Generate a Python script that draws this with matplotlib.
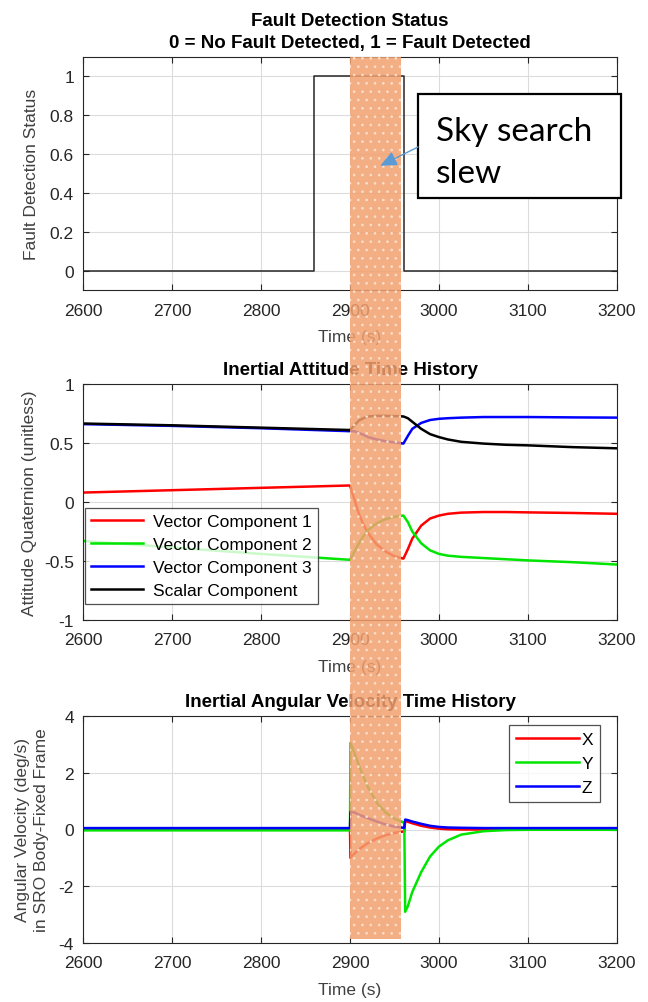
import matplotlib
matplotlib.use("Agg")
import matplotlib.pyplot as plt
from matplotlib.patches import Rectangle, FancyArrowPatch

plt.rcParams['font.family'] = ['Liberation Sans', 'DejaVu Sans']
plt.rcParams['hatch.linewidth'] = 0.7
plt.rcParams['axes.unicode_minus'] = False

# fault detection flag (step changes)
t_fd = [2600, 2860, 2961, 3200]
fd = [0, 1, 0, 0]

# attitude quaternion
t_att = [2600, 2700, 2800, 2900, 2905, 2910, 2915, 2920, 2930, 2940, 2950, 2960,
         2965, 2970, 2980, 2990, 3000, 3010, 3025, 3050, 3075, 3100, 3150, 3200]
q1 = [0.08, 0.10, 0.12, 0.14, 0.02, -0.10, -0.19, -0.26, -0.36, -0.42, -0.46, -0.48,
      -0.40, -0.31, -0.20, -0.14, -0.115, -0.10, -0.09, -0.085, -0.085, -0.088, -0.093, -0.10]
q2 = [-0.33, -0.385, -0.44, -0.49, -0.42, -0.35, -0.29, -0.24, -0.18, -0.145, -0.125, -0.115,
      -0.17, -0.25, -0.35, -0.41, -0.44, -0.455, -0.465, -0.475, -0.485, -0.495, -0.51, -0.53]
q3 = [0.66, 0.645, 0.625, 0.60, 0.60, 0.585, 0.57, 0.55, 0.53, 0.515, 0.505, 0.495,
      0.56, 0.62, 0.67, 0.695, 0.705, 0.71, 0.715, 0.72, 0.72, 0.72, 0.717, 0.715]
q4 = [0.665, 0.65, 0.63, 0.61, 0.65, 0.69, 0.71, 0.725, 0.73, 0.73, 0.728, 0.725,
      0.71, 0.68, 0.62, 0.575, 0.55, 0.53, 0.51, 0.495, 0.485, 0.48, 0.465, 0.455]
att_labels = ["Vector Component 1", "Vector Component 2", "Vector Component 3", "Scalar Component"]

# angular velocity
t_w = [2600, 2900, 2900.5, 2905, 2910, 2920, 2930, 2940, 2950, 2960, 2961, 2962,
       2965, 2970, 2980, 2990, 3000, 3010, 3025, 3050, 3075, 3100, 3200]
wx = [0, 0, -1.0, -0.85, -0.7, -0.48, -0.32, -0.2, -0.12, -0.07, -0.07, 0.3,
      0.27, 0.22, 0.13, 0.07, 0.03, 0.01, 0, 0, 0, 0, 0]
wy = [-0.03, -0.03, 3.05, 2.7, 2.25, 1.5, 0.95, 0.6, 0.38, 0.25, 0.25, -2.9,
      -2.7, -2.2, -1.5, -0.95, -0.6, -0.38, -0.18, -0.06, -0.02, -0.01, -0.01]
wz = [0.05, 0.05, 0.62, 0.6, 0.52, 0.4, 0.28, 0.18, 0.1, 0.06, 0.06, 0.35,
      0.33, 0.28, 0.2, 0.13, 0.09, 0.07, 0.06, 0.05, 0.05, 0.05, 0.05]

slew_start, slew_end = 2900, 2957
arrow_tip = (2934, 0.54)

W, H = 648, 1003
fig = plt.figure(figsize=(W / 100, H / 100), dpi=100)

def make_ax(top, bottom):
    ax = fig.add_axes([83 / W, 1 - bottom / H, (617 - 83) / W, (bottom - top) / H])
    ax.set_xlim(2600, 3200)
    ax.grid(True, color='#dcdcdc', lw=0.8)
    ax.set_axisbelow(True)
    ax.tick_params(direction='in', labelsize=12.5, colors='#262626', length=4, top=True, right=True,
                   labeltop=False, labelright=False)
    ax.tick_params(axis='x', pad=9)
    ax.tick_params(axis='y', pad=6.5)
    for s in ax.spines.values():
        s.set_color('#262626')
        s.set_linewidth(0.8)
    ax.set_xlabel("Time (s)", fontsize=12.5, color='#404040', labelpad=8)
    return ax

title_kw = dict(fontsize=13.5, fontweight='bold', pad=7)

ax1 = make_ax(58, 291)
ax1.plot(t_fd, fd, drawstyle='steps-post', color='#262626', lw=1.1)
ax1.set_ylim(-0.1, 1.1)
ax1.set_yticks([0, 0.2, 0.4, 0.6, 0.8, 1])
ax1.set_yticklabels(['0', '0.2', '0.4', '0.6', '0.8', '1'])
ax1.set_ylabel("Fault Detection Status", fontsize=12.5, color='#404040')
ax1.yaxis.set_label_coords(-0.082, 0.5)
ax1.set_title("Fault Detection Status\n0 = No Fault Detected, 1 = Fault Detected",
              linespacing=1.4, **title_kw)

ax2 = make_ax(385, 621)
for q, c, lab in zip([q1, q2, q3, q4], ['#ff0000', '#00e600', '#0000ff', '#000000'], att_labels):
    ax2.plot(t_att, q, color=c, lw=1.8, label=lab)
ax2.set_ylim(-1, 1)
ax2.set_yticks([-1, -0.5, 0, 0.5, 1])
ax2.set_yticklabels(['-1', '-0.5', '0', '0.5', '1'])
ax2.set_ylabel("Attitude Quaternion (unitless)", fontsize=12.5, color='#404040')
ax2.yaxis.set_label_coords(-0.087, 0.5)
ax2.set_title("Inertial Attitude Time History", **title_kw)
leg = ax2.legend(loc='lower left', bbox_to_anchor=(0.0, 0.06), fontsize=12.5, fancybox=False,
                 edgecolor='#262626', borderaxespad=0.1, handlelength=3.0, labelspacing=0.45,
                 borderpad=0.35, handletextpad=0.6)
leg.get_frame().set_linewidth(0.9)

ax3 = make_ax(717, 944)
for w, c, lab in zip([wx, wy, wz], ['#ff0000', '#00e600', '#0000ff'], ['X', 'Y', 'Z']):
    ax3.plot(t_w, w, color=c, lw=1.8, label=lab)
ax3.set_ylim(-4, 4)
ax3.set_yticks([-4, -2, 0, 2, 4])
ax3.set_ylabel("Angular Velocity (deg/s)\nin SRO Body-Fixed Frame", fontsize=12.5, color='#404040',
               linespacing=1.35)
ax3.yaxis.set_label_coords(-0.063, 0.5)
ax3.set_title("Inertial Angular Velocity Time History", **title_kw)
leg3 = ax3.legend(loc='upper right', bbox_to_anchor=(0.968, 0.96), fontsize=12.5, fancybox=False,
                  edgecolor='#262626', borderaxespad=0.0, handlelength=3.6, labelspacing=0.5,
                  borderpad=0.4, handletextpad=0.15)
leg3.get_frame().set_linewidth(0.9)

# slew shading across all panels
fig.canvas.draw()
x0 = ax1.transData.transform((slew_start, 0))[0] / W
x1 = ax1.transData.transform((slew_end, 0))[0] / W
y_top = 1 - 58 / H
y_bot = 1 - 940 / H
fig.patches.append(Rectangle((x0, y_bot), x1 - x0, y_top - y_bot, transform=fig.transFigure,
                             facecolor='#f3a06e', edgecolor='#fbe3d4', hatch='..', lw=0,
                             alpha=0.85, zorder=10))

# callout box with arrow
fig.patches.append(Rectangle((418 / W, 1 - 199 / H), 203 / W, 104 / H, transform=fig.transFigure,
                             facecolor='white', edgecolor='black', lw=1.6, zorder=11))
fig.text(436 / W, 1 - 153 / H, "Sky search\nslew", fontsize=24, family=['Lato', 'DejaVu Sans'],
         va='center', ha='left', linespacing=1.5, zorder=12)
tip = fig.transFigure.inverted().transform(ax1.transData.transform(arrow_tip))
fig.patches.append(FancyArrowPatch((418 / W, 1 - 148 / H), tuple(tip), transform=fig.transFigure,
                                   arrowstyle='-|>,head_length=10,head_width=4.5', color='#5b9bd5',
                                   lw=1.0, shrinkA=0, shrinkB=0, zorder=12))

fig.savefig("out.png", dpi=100)
